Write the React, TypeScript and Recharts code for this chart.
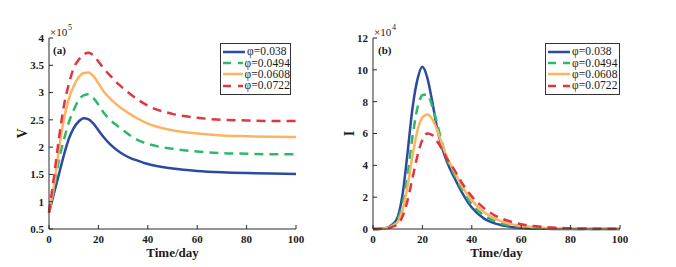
import React from 'react';
import { LineChart, Line, XAxis, YAxis, Legend } from 'recharts';

// ---------- data ----------
const SERIES_LABELS = ['φ=0.038', 'φ=0.0494', 'φ=0.0608', 'φ=0.0722'];

// Panel (a): V (×10^5)
const TIME_V = [0, 2, 4, 6, 8, 10, 12, 14, 16, 18, 20, 22, 25, 28, 30, 33, 36, 40, 50, 60, 70, 80, 90, 100];
const V_038 = [0.8, 1.15, 1.5, 1.85, 2.15, 2.35, 2.47, 2.53, 2.51, 2.43, 2.31, 2.19, 2.04, 1.93, 1.87, 1.8, 1.75, 1.69, 1.61, 1.565, 1.54, 1.525, 1.515, 1.51];
const V_0494 = [0.8, 1.22, 1.76, 2.13, 2.45, 2.68, 2.86, 2.95, 2.97, 2.9, 2.78, 2.64, 2.49, 2.38, 2.31, 2.21, 2.13, 2.06, 1.97, 1.92, 1.89, 1.88, 1.87, 1.87];
const V_0608 = [0.8, 1.3, 1.95, 2.5, 2.88, 3.12, 3.28, 3.36, 3.37, 3.3, 3.17, 3.03, 2.88, 2.76, 2.69, 2.6, 2.52, 2.43, 2.31, 2.25, 2.215, 2.2, 2.19, 2.185];
const V_0722 = [0.8, 1.45, 2.15, 2.75, 3.15, 3.45, 3.6, 3.7, 3.73, 3.68, 3.57, 3.45, 3.3, 3.16, 3.08, 2.97, 2.87, 2.76, 2.61, 2.54, 2.5, 2.49, 2.48, 2.48];
const V_TICKS = [0.5, 1, 1.5, 2, 2.5, 3, 3.5, 4];

// Panel (b): I (×10^4)
const TIME_I = [0, 5, 8, 10, 12, 14, 16, 18, 20, 22, 24, 26, 28, 30, 33, 36, 40, 45, 50, 55, 60, 70, 80, 90, 100];
const I_038 = [0, 0.05, 0.3, 0.75, 2.2, 4.8, 7.6, 9.4, 10.2, 9.5, 8.0, 6.3, 5.1, 4.2, 3.2, 2.3, 1.35, 0.65, 0.32, 0.15, 0.07, 0.02, 0, 0, 0];
const I_0494 = [0, 0.04, 0.25, 0.6, 1.6, 3.4, 5.8, 7.6, 8.4, 8.45, 7.7, 6.6, 5.4, 4.4, 3.4, 2.5, 1.55, 0.85, 0.45, 0.24, 0.13, 0.04, 0.01, 0, 0];
const I_0608 = [0, 0.04, 0.2, 0.45, 1.2, 2.7, 4.6, 6.2, 7.0, 7.2, 6.9, 6.2, 5.3, 4.5, 3.6, 2.7, 1.8, 1.05, 0.6, 0.34, 0.2, 0.07, 0.02, 0.01, 0];
const I_0722 = [0, 0.03, 0.15, 0.3, 0.8, 1.8, 3.2, 4.6, 5.6, 6.0, 5.9, 5.5, 5.0, 4.4, 3.7, 2.9, 2.05, 1.3, 0.8, 0.5, 0.3, 0.12, 0.05, 0.02, 0.01];
const I_TICKS = [0, 2, 4, 6, 8, 10, 12];

const X_TICKS = [0, 20, 40, 60, 80, 100];

// ---------- styles ----------
const COLORS = ['#2c4ba0', '#2fb86b', '#fdb462', '#e0363f'];
const DASHES = ['', '9 6', '', '9 6'];
const FONT = '"Liberation Serif", "Times New Roman", serif';
const AXIS = '#2a2a2a';

function buildRows(time: number[], series: number[][]) {
  return time.map((t, i) => {
    const row: Record<string, number> = { t };
    series.forEach((s, k) => {
      row['s' + k] = s[i];
    });
    return row;
  });
}

const V_ROWS = buildRows(TIME_V, [V_038, V_0494, V_0608, V_0722]);
const I_ROWS = buildRows(TIME_I, [I_038, I_0494, I_0608, I_0722]);

const tickStyle = { fill: '#1a1a1a', fontSize: 11, fontWeight: 700, fontFamily: FONT };

function LegendBox({ width }: { width: number }) {
  return (
    <div
      style={{
        width,
        boxSizing: 'border-box',
        border: '1px solid #333',
        background: '#fff',
        padding: '2px 0 2px 1px',
        fontFamily: FONT,
      }}
    >
      {SERIES_LABELS.map((lab, i) => (
        <div key={lab} style={{ display: 'flex', alignItems: 'center', height: 11.4 }}>
          <svg width={24} height={6} style={{ display: 'block' }}>
            <line
              x1={1}
              y1={3}
              x2={23}
              y2={3}
              stroke={COLORS[i]}
              strokeWidth={2.5}
              strokeDasharray={DASHES[i] ? '8 7' : undefined}
            />
          </svg>
          <span
            style={{
              fontSize: 11.5,
              color: '#1a1a1a',
              lineHeight: '11px',
              marginLeft: 1,
              letterSpacing: 0.1,
              whiteSpace: 'nowrap',
            }}
          >
            {lab}
          </span>
        </div>
      ))}
    </div>
  );
}

type PanelProps = {
  rows: Record<string, number>[];
  domain: [number, number];
  ticks: number[];
  yLabel: string;
  yAxisWidth: number;
  rightMargin: number;
  yLabelX: number;
  legendLeft: number;
  legendWidth: number;
};

function Panel({ rows, domain, ticks, yLabel, yAxisWidth, rightMargin, yLabelX, legendLeft, legendWidth }: PanelProps) {
  return (
    <LineChart width={338} height={267} data={rows} margin={{ top: 38, right: rightMargin, bottom: 0, left: 0 }}>
      <XAxis
        dataKey="t"
        type="number"
        domain={[0, 100]}
        ticks={X_TICKS}
        height={38}
        tickSize={-4}
        tickMargin={10}
        tick={tickStyle}
        axisLine={{ stroke: AXIS }}
        tickLine={{ stroke: AXIS }}
        label={{
          value: 'Time/day',
          position: 'insideBottom',
          offset: 10,
          fill: '#1a1a1a',
          fontSize: 13,
          fontWeight: 700,
          fontFamily: FONT,
        }}
      />
      <XAxis
        xAxisId="top"
        orientation="top"
        type="number"
        domain={[0, 100]}
        ticks={X_TICKS}
        height={0}
        tickSize={-4}
        tickFormatter={() => ''}
        axisLine={{ stroke: AXIS }}
        tickLine={{ stroke: AXIS }}
      />
      <YAxis
        type="number"
        domain={domain}
        ticks={ticks}
        width={yAxisWidth}
        tickSize={-4}
        tickMargin={9}
        tick={tickStyle}
        axisLine={{ stroke: AXIS }}
        tickLine={{ stroke: AXIS }}
        label={{
          content: (p: any) => {
            const vb = p.viewBox || { x: 0, y: 38, width: 0, height: 191 };
            const x = vb.x + yLabelX;
            const y = vb.y + vb.height / 2;
            return (
              <text
                x={x}
                y={y}
                transform={`rotate(-90, ${x}, ${y})`}
                textAnchor="middle"
                dominantBaseline="central"
                fill="#1a1a1a"
                fontSize={14}
                fontWeight={700}
                fontFamily={FONT}
              >
                {yLabel}
              </text>
            );
          },
        }}
      />
      <YAxis
        yAxisId="right"
        orientation="right"
        type="number"
        domain={domain}
        ticks={ticks}
        width={0}
        tickSize={-4}
        tickFormatter={() => ''}
        axisLine={{ stroke: AXIS }}
        tickLine={{ stroke: AXIS }}
      />
      {SERIES_LABELS.map((lab, i) => (
        <Line
          key={lab}
          dataKey={'s' + i}
          name={lab}
          type="monotone"
          stroke={COLORS[i]}
          strokeWidth={2.5}
          strokeDasharray={DASHES[i] || undefined}
          dot={false}
          activeDot={false}
          isAnimationActive={false}
        />
      ))}
      <Legend
        layout="vertical"
        align="center"
        verticalAlign="middle"
        wrapperStyle={{ left: legendLeft, top: 43, width: legendWidth }}
        content={() => <LegendBox width={legendWidth} />}
      />
    </LineChart>
  );
}

const overlayText: React.CSSProperties = {
  position: 'absolute',
  fontFamily: FONT,
  color: '#1a1a1a',
  lineHeight: 1,
  whiteSpace: 'nowrap',
};

export default function App() {
  return (
    <div style={{ position: 'absolute', left: 0, top: 0, width: 676, height: 267, background: '#fff' }}>
      <div style={{ position: 'absolute', left: 0, top: 0 }}>
        <Panel
          rows={V_ROWS}
          domain={[0.5, 4]}
          ticks={V_TICKS}
          yLabel="V"
          yAxisWidth={49}
          rightMargin={42}
          yLabelX={22}
          legendLeft={220}
          legendWidth={71}
        />
      </div>
      <div style={{ position: 'absolute', left: 338, top: 0 }}>
        <Panel
          rows={I_ROWS}
          domain={[0, 12]}
          ticks={I_TICKS}
          yLabel="I"
          yAxisWidth={35}
          rightMargin={56}
          yLabelX={11}
          legendLeft={207}
          legendWidth={75}
        />
      </div>
      {/* multipliers and panel tags */}
      <span style={{ ...overlayText, left: 50, top: 27, fontSize: 11 }}>×10</span>
      <span style={{ ...overlayText, left: 68, top: 24, fontSize: 8 }}>5</span>
      <span style={{ ...overlayText, left: 53, top: 45, fontSize: 11, fontWeight: 700 }}>(a)</span>
      <span style={{ ...overlayText, left: 374, top: 27, fontSize: 11 }}>×10</span>
      <span style={{ ...overlayText, left: 392, top: 24, fontSize: 8 }}>4</span>
      <span style={{ ...overlayText, left: 378, top: 45, fontSize: 11, fontWeight: 700 }}>(b)</span>
    </div>
  );
}
